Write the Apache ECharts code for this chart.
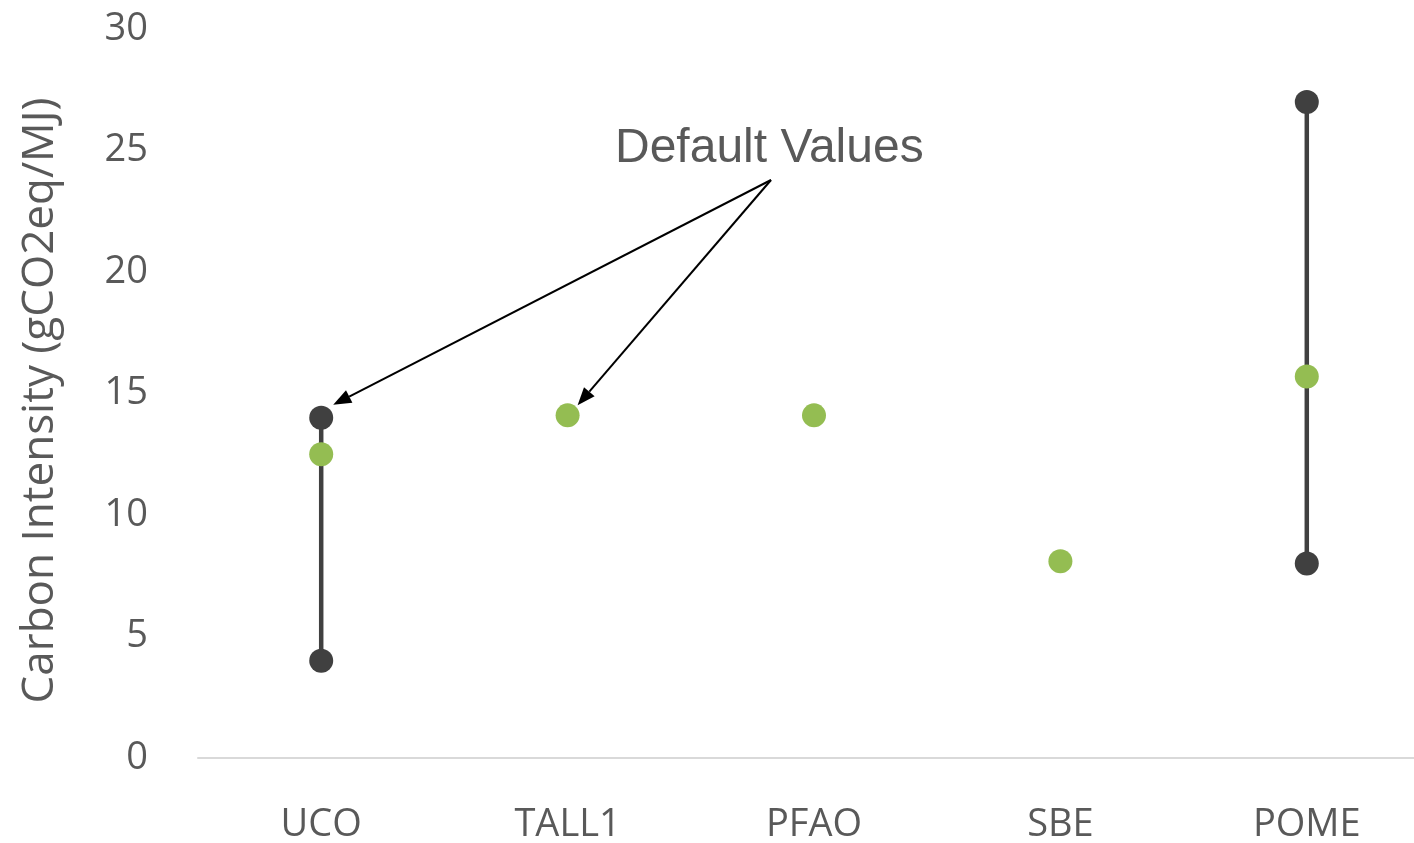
<!DOCTYPE html>
<html>
<head>
<meta charset="utf-8">
<script src="https://cdn.jsdelivr.net/npm/echarts@6/dist/echarts.min.js"></script>
<style>html,body{margin:0;padding:0;background:#fff;}#chart{width:1414px;height:843px;}</style>
</head>
<body>
<div id="chart"></div>
<script>
var categories = ['UCO', 'TALL1', 'PFAO', 'SBE', 'POME'];
var rangeLow = [4, null, null, null, 8];
var rangeHigh = [14, null, null, null, 27];
var defaultValues = [12.5, 14.1, 14.1, 8.1, 15.7];
var yTicks = {min: 0, max: 30, interval: 5};
var annotationText = 'Default Values';

var chart = echarts.init(document.getElementById('chart'), null, {renderer: 'canvas'});

var rangeData = [];
var endData = [];
categories.forEach(function (c, i) {
  if (rangeLow[i] != null && rangeHigh[i] != null) {
    rangeData.push([i, rangeLow[i], rangeHigh[i]]);
    endData.push([i, rangeLow[i]]);
    endData.push([i, rangeHigh[i]]);
  }
});

var font = '"Open Sans", "Noto Sans", sans-serif';

chart.setOption({
  animation: false,
  grid: {left: 198, top: 29, right: -16, bottom: 85, containLabel: false, outerBoundsMode: 'none'},
  xAxis: {
    type: 'category',
    data: categories,
    boundaryGap: true,
    axisLine: {show: true, lineStyle: {color: '#d9d9d9', width: 2}},
    axisTick: {show: false},
    axisLabel: {color: '#595959', fontSize: 38, fontFamily: font, margin: 48}
  },
  yAxis: {
    type: 'value',
    min: yTicks.min, max: yTicks.max, interval: yTicks.interval,
    axisLine: {show: false},
    axisTick: {show: false},
    splitLine: {show: false},
    axisLabel: {color: '#595959', fontSize: 38, fontFamily: font, margin: 50, verticalAlign: 'middle', lineHeight: 38, padding: [10, 0, 0, 0]},
    name: 'Carbon Intensity (gCO2eq/MJ)',
    nameLocation: 'middle',
    nameRotate: 90,
    nameGap: 136,
    nameTextStyle: {color: '#595959', fontSize: 44, fontFamily: font, padding: [0, 14, 0, 0]}
  },
  series: [
    {
      type: 'custom',
      data: rangeData,
      z: 1,
      renderItem: function (params, api) {
        var p1 = api.coord([api.value(0), api.value(1)]);
        var p2 = api.coord([api.value(0), api.value(2)]);
        return {
          type: 'line',
          shape: {x1: p1[0], y1: p1[1], x2: p2[0], y2: p2[1]},
          style: {stroke: '#404040', lineWidth: 4.5}
        };
      }
    },
    {
      type: 'scatter',
      data: endData,
      symbolSize: 24,
      z: 2,
      itemStyle: {color: '#404040', opacity: 1}
    },
    {
      type: 'scatter',
      data: defaultValues.map(function (v, i) { return [i, v]; }),
      symbolSize: 24,
      z: 3,
      itemStyle: {color: '#94bd52', opacity: 1}
    }
  ]
});

function arrow(from, to) {
  var dx = to[0] - from[0], dy = to[1] - from[1];
  var len = Math.sqrt(dx * dx + dy * dy);
  var ux = dx / len, uy = dy / len;
  var hl = 18, hw = 7;
  var bx = to[0] - ux * hl, by = to[1] - uy * hl;
  return [
    {type: 'line', shape: {x1: from[0], y1: from[1], x2: bx, y2: by}, style: {stroke: '#000', lineWidth: 2}, z: 10},
    {type: 'polygon', shape: {points: [to, [bx - uy * hw, by + ux * hw], [bx + uy * hw, by - ux * hw]]}, style: {fill: '#000'}, z: 10}
  ];
}

var pUco = chart.convertToPixel({seriesIndex: 1}, [0, rangeHigh[0]]);
var pTall = chart.convertToPixel({seriesIndex: 2}, [1, defaultValues[1]]);
var origin = [771, 180];
var elements = [
  {type: 'text', left: 615, top: 125, style: {text: annotationText, fill: '#595959', font: '48px "Liberation Sans", Arial, sans-serif'}, z: 10}
];
elements = elements.concat(arrow(origin, [pUco[0] + 12, pUco[1] - 13]));
elements = elements.concat(arrow(origin, [pTall[0] + 10, pTall[1] - 10]));
chart.setOption({graphic: {elements: elements}});
</script>
</body>
</html>
